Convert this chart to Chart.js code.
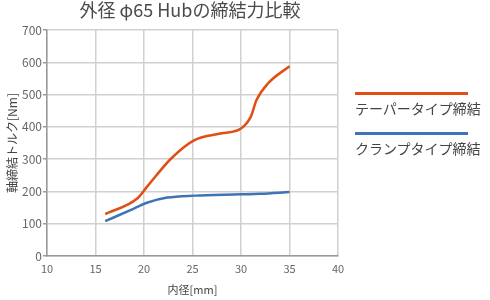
<!DOCTYPE html>
<html>
<head>
<meta charset="utf-8">
<script src="https://cdn.jsdelivr.net/npm/chart.js@4/dist/chart.umd.min.js"></script>
<style type="text/css">
    body { margin: 0; background: #fff; font-family: "Noto Sans CJK JP", "Noto Sans", sans-serif; }
    #wrap { position: relative; width: 490px; height: 300px; }
    #chartBox { position: absolute; left: 0; top: 0; width: 382px; height: 300px; }
    #title { position: absolute; left: 40px; top: -4px; width: 300px; text-align: center; color: #4a4a4a; font-size: 18px; }
    #legend { position: absolute; left: 355px; top: 92px; width: 136px; color: #444; font-size: 14px; }
    #legend .item { margin-bottom: 14px; }
    #legend .swatch { width: 113px; height: 3px; margin-bottom: 3px; }
</style>
</head>
<body>
<div id="wrap">
    <div id="chartBox"><canvas id="chart"></canvas></div>
    <div id="title">外径 φ65 Hubの締結力比較</div>
    <div id="legend"></div>
</div>

<script type="text/javascript">
const taperX = [16, 19.3, 20.3, 22.8, 25.2, 28, 30, 31, 31.6, 32.8, 35];
const taperY = [130, 178, 214, 302, 359, 380, 395, 431, 483, 535, 588];
const clampX = [16, 18.6, 20.3, 22.4, 25.2, 30, 32, 35];
const clampY = [108, 142, 165, 181, 187, 191, 193, 198];
const seriesNames = ['テーパータイプ締結', 'クランプタイプ締結'];
const seriesColors = ['#E04E14', '#3F72B6'];

function toPoints(xs, ys) {
    return xs.map(function (x, i) { return { x: x, y: ys[i] }; });
}

const font = '"Noto Sans CJK JP", "Noto Sans", sans-serif';

new Chart(document.getElementById('chart'), {
    type: 'line',
    data: {
        datasets: [
            { label: seriesNames[0], data: toPoints(taperX, taperY), borderColor: seriesColors[0] },
            { label: seriesNames[1], data: toPoints(clampX, clampY), borderColor: seriesColors[1] }
        ]
    },
    options: {
        responsive: true,
        maintainAspectRatio: false,
        animation: false,
        layout: { padding: { right: 44, top: 30 } },
        elements: {
            point: { radius: 0 },
            line: { borderWidth: 2.5, cubicInterpolationMode: 'monotone', fill: false }
        },
        plugins: {
            legend: { display: false },
            tooltip: { enabled: false },
            title: { display: false }
        },
        scales: {
            x: {
                type: 'linear',
                min: 10,
                max: 40,
                ticks: { stepSize: 5, color: '#666', font: { family: font, size: 11 }, padding: 6 },
                grid: { color: '#d0d0d0', lineWidth: 1.5, drawTicks: false },
                border: { color: '#999', width: 1.5 },
                title: { display: true, text: '内径[mm]', color: '#444', font: { family: font, size: 11 } },
                afterFit: function (scale) { scale.height = 44; }
            },
            y: {
                min: 0,
                max: 700,
                ticks: { stepSize: 100, color: '#666', font: { family: font, size: 12 }, padding: 1 },
                grid: { color: '#d0d0d0', lineWidth: 1.5, drawTicks: true, tickLength: 4, tickColor: '#999' },
                border: { color: '#999', width: 1.5 },
                title: { display: true, text: '軸締結トルク[Nm]', color: '#444', font: { family: font, size: 12 }, padding: { top: 5, bottom: 0 } },
                afterFit: function (scale) { scale.width = 47; }
            }
        }
    }
});

const legend = document.getElementById('legend');
seriesNames.forEach(function (name, i) {
    const item = document.createElement('div');
    item.className = 'item';
    item.innerHTML = `<div class="swatch" style="background:${seriesColors[i]}"></div><div>${name}</div>`;
    legend.appendChild(item);
});
</script>
</body>
</html>
